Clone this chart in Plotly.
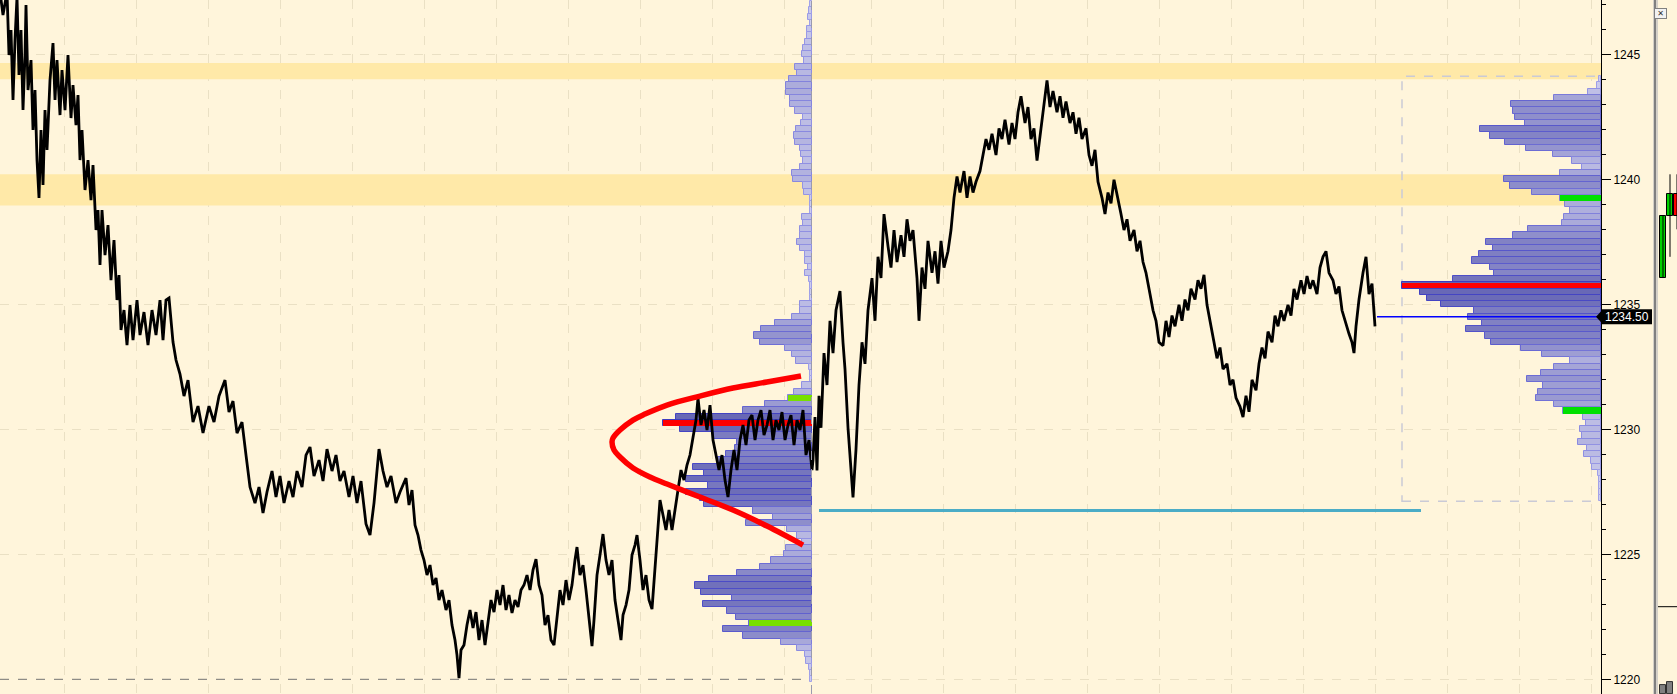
import plotly.graph_objects as go

# ---------------- data ----------------
Y_MIN, Y_MAX = 1219.412, 1247.172
X_MAX = 1601            # time-axis extent (one unit = one bar slot)
SESSION_BREAK = 812     # time index where session 2 begins

TICK = 0.25

LEFT_T = [0,3,7,9,11,13,15,17,19,21,23,25,26,28,31,33,35,37,39,41,43,45,47,50,53,55,57,60,62,65,68,71,73,76,78,80,82,85,88,91,93,96,98,100,102,105,108,111,114,117,119,121,124,127,130,133,137,140,144,148,152,156,160,163,166,169,173,176,180,184,188,193,198,203,209,214,219,225,229,233,237,242,246,250,255,259,263,267,272,276,280,284,289,293,297,302,306,310,314,319,323,327,332,336,340,344,349,353,357,361,366,370,374,379,383,387,391,396,400,
          403,406,409,412,415,418,421,424,427,430,433,436,439,442,446,449,452,455,457,459,461,464,467,470,473,476,479,482,485,488,491,494,497,500,503,506,509,512,515,518,521,524,527,530,533,536,539,542,545,548,551,554,557,560,563,566,569,572,575,577,580,583,586,589,592,594,597,600,603,606,609,612,615,618,621,623,626,629,632,635,637,640,643,646,649,652,655,657,660,663,666,669,672,675,678,681,684,687,690,693,696,698,701,704,707,710,713,716,719,722,725,728,731,734,737,740,743,746,749,752,755,758,761,764,767,770,773,776,779,782,785,788,791,794,797,800,803,806,809,812]
LEFT_P = [1247.5,1246.57,1247.5,1244.97,1245.97,1243.17,1245.57,1247.3,1244.17,1245.97,1242.77,1244.97,1246.97,1243.57,1244.77,1241.97,1243.57,1240.77,1239.25,1241.97,1239.77,1242.77,1241.17,1243.97,1245.45,1243.17,1244.77,1242.57,1244.37,1242.77,1244.97,1242.45,1243.77,1242.17,1243.37,1240.77,1241.97,1239.57,1240.77,1239.17,1240.57,1237.97,1238.77,1236.57,1238.77,1236.97,1238.17,1235.97,1237.57,1235.17,1236.17,1233.97,1234.77,1233.37,1234.97,1233.57,1235.17,1233.77,1234.69,1233.37,1234.77,1233.77,1235.17,1233.57,1235.17,1235.25,1233.49,1232.77,1232.21,1231.33,1231.97,1230.29,1230.93,1229.85,1230.93,1230.29,1231.33,1231.97,1230.69,1231.13,1229.85,1230.29,1228.97,1227.69,1227.05,1227.69,1226.65,1227.49,1228.33,1227.29,1228.13,1227.05,1227.93,1227.29,1228.33,1227.69,1228.97,1229.29,1228.13,1228.77,1227.93,1229.21,1228.33,1228.97,1227.93,1228.33,1227.29,1228.13,1227.05,1227.93,1226.21,1225.77,1227.05,1229.21,1228.33,1227.69,1228.13,1227.05,1227.49,
          1227.77,1228.05,1226.97,1227.57,1226.17,1225.77,1225.17,1224.77,1224.17,1224.57,1223.77,1224.05,1223.17,1223.57,1222.77,1223.17,1222.17,1221.57,1220.97,1220.05,1221.17,1221.37,1222.17,1222.77,1222.05,1222.69,1221.57,1222.37,1221.37,1222.17,1223.17,1222.69,1223.57,1222.97,1223.77,1222.77,1223.37,1222.65,1223.17,1222.89,1223.57,1223.77,1224.17,1223.57,1224.37,1224.81,1223.77,1223.37,1222.17,1222.57,1221.57,1221.37,1222.37,1223.57,1222.97,1223.97,1223.17,1223.77,1224.77,1225.29,1224.17,1224.57,1223.57,1222.57,1221.33,1222.37,1224.17,1224.97,1225.81,1224.77,1224.17,1224.77,1223.17,1222.37,1221.57,1222.57,1222.97,1223.57,1224.97,1225.37,1225.77,1224.77,1223.57,1224.17,1223.17,1222.81,1224.57,1225.77,1227.17,1226.57,1225.97,1226.77,1225.97,1226.77,1227.57,1228.37,1227.97,1228.57,1228.97,1229.77,1230.37,1231.25,1230.17,1230.77,1229.97,1230.97,1229.57,1228.97,1228.37,1228.97,1227.97,1227.29,1228.37,1229.17,1228.37,1229.57,1230.17,1229.37,1230.37,1230.57,1229.57,1230.37,1230.77,1229.77,1230.17,1230.77,1229.57,1230.37,1229.97,1230.69,1229.57,1230.17,1230.57,1229.37,1230.37,1229.97,1230.77,1228.97,1229.57,1228.37]

RIGHT_T = [813,815,817,819,821,824,827,830,833,836,840,843,845,848,851,853,856,859,862,865,868,872,875,878,881,884,888,891,894,897,901,904,907,910,913,917,919,922,925,928,932,935,938,941,944,948,951,954,957,960,964,967,970,973,976,980,983,986,989,992,996,999,1002,1005,1009,1012,1015,1018,1021,1025,1028,1031,1034,1037,1041,1044,1047,1050,1053,1057,1060,1063,1066,1070,1073,1076,1079,1082,1086,1089,1092,1095,1098,1102,1105,1108,1111,1114,1118,1121,1124,1127,1130,1134,1137,1140,1143,1146,1150,1153,1156,1159,1163,1166,1169,1172,1175,1179,1182,1185,1188,1191,1195,1198,1201,1204,1207,1211,1214,1217,1220,1223,1227,1230,1233,1236,1240,1243,1246,1249,1252,1256,1259,1262,1265,1268,1272,1275,1278,1281,1284,1288,1291,1294,1297,1301,1304,1307,1310,1313,1317,1320,1323,1326,1329,1333,1336,1339,1342,1345,1349,1352,1354,1356,1359,1363,1366,1369,1372,1375]
RIGHT_P = [1228.77,1230.49,1228.35,1231.34,1230.06,1233.05,1231.77,1234.34,1233.05,1234.76,1235.53,1233.48,1232.41,1230.06,1228.35,1227.28,1229.20,1231.77,1233.48,1232.62,1234.76,1236.05,1234.34,1236.90,1236.05,1238.61,1237.33,1236.47,1237.97,1236.69,1237.76,1236.90,1238.40,1237.54,1237.97,1236.05,1234.34,1236.47,1235.62,1237.54,1236.26,1237.12,1235.83,1237.54,1236.47,1237.12,1237.97,1239.26,1240.11,1239.47,1240.33,1239.26,1240.11,1239.47,1239.90,1240.33,1240.97,1241.61,1241.18,1241.82,1240.97,1242.04,1241.61,1242.38,1241.39,1242.25,1241.61,1242.68,1243.32,1242.25,1242.89,1241.61,1242.04,1240.75,1242.04,1243.11,1243.96,1242.89,1243.53,1242.68,1243.32,1242.46,1243.11,1242.25,1242.68,1241.82,1242.46,1241.61,1242.04,1240.97,1240.54,1241.18,1239.90,1239.26,1238.61,1239.47,1239.04,1239.98,1239.26,1238.61,1237.97,1238.40,1237.54,1237.97,1237.12,1237.54,1236.69,1236.26,1235.41,1234.76,1234.34,1233.48,1233.35,1234.34,1233.69,1234.55,1234.12,1234.98,1234.34,1235.19,1234.76,1235.62,1235.19,1235.96,1235.62,1236.18,1234.98,1234.12,1233.48,1232.84,1233.27,1232.41,1232.62,1231.77,1231.98,1231.26,1230.91,1230.49,1231.34,1230.70,1231.98,1231.56,1232.62,1233.27,1232.84,1233.91,1233.48,1234.55,1234.12,1234.76,1234.34,1234.98,1234.55,1235.62,1235.19,1235.96,1235.41,1236.13,1235.62,1235.96,1235.41,1236.47,1236.90,1237.12,1236.26,1235.96,1235.41,1235.71,1234.76,1234.34,1233.82,1233.48,1233.05,1234.12,1235.19,1236.26,1236.90,1235.41,1235.83,1234.12]

# volume profile, session 1 (rows from the top price, one tick apart)
LEFT_PROFILE_TOP = 1247.0
LEFT_VOL = [1.7,3.3,4.3,2.3,5.3,5.3,7.3,9.3,10.3,8.3,
            17.3,15.3,23.3,26.3,26.3,22.3,22.3,17.3,9.3,11.3,
            16.3,18.3,17.3,12.3,11.3,9.3,12.3,20.3,19.3,9.3,
            8.3,2.3,2.3,1.7,10.3,9.3,12.3,12.3,15.3,12.3,
            7.3,7.3,4.3,7.3,3.3,2.3,2.3,1.7,12.3,12.3,
            20.3,37.3,51.3,58.3,52.3,27.3,
            20,16.3,3,2.3,2,10.3,18.3,24,
            47.3,69.3,136.3,149.3,132.3,97.7,75,77.3,86.3,94.3,
            119.3,108.3,125.7,104.3,125.7,112.3,108.3,59.3,39.3,66.3,
            25,15.3,10,26,28.3,41.3,52.3,75.3,103.3,117.3,
            111.3,80.3,109.3,85.3,76.3,63,
            89.3,69.3,31.3,15.3,7.3,6.3,3.3,2.3,1.7]
LEFT_POC = 1230.25
LEFT_VA = [1231.25, 1222.25]
SESSION1_LOW = 1220.0

# volume profile, session 2
RIGHT_PROFILE_TOP = 1244.0
RIGHT_VOL = [2,4,13,47,90,88,86,76,121,111,
             96,75,48,29,19,41,97,91,69,41,
             36,31,37,39,73,88,115,108,122,129,
             111,107,148,199,181,174,160,127,133,119,
             135,116,110,80,59,31,47,60,74,58,
             63,65,47,38,18,15,21,19,23,14,
             17,10,9,3,2,1.7,1.7,1.7]
RIGHT_POC = 1235.75
RIGHT_VA = [1239.25, 1230.75]

LAST_PRICE = 1234.50
LAST_PRICE_FROM = 1377
SUPPORT_LEVEL = 1226.75
SUPPORT_T = [819, 1421]

BANDS = [(1244.0, 1244.65), (1238.95, 1240.2)]

# hand-drawn red curve (time, price)
CURVE_T = [801, 767, 733, 700, 667, 645, 633, 620, 613, 612, 614, 620, 633, 650, 667, 700, 733, 767, 803]
CURVE_P = [1232.13, 1231.89, 1231.65, 1231.33, 1230.97, 1230.61, 1230.37, 1229.97, 1229.65, 1229.49,
           1229.17, 1228.89, 1228.45, 1228.09, 1227.81, 1227.29, 1226.77, 1226.13, 1225.37]

GRID_T = [64, 136, 208, 280, 352, 424, 496, 568, 640, 712, 784,
          871, 943, 1015, 1087, 1159, 1231, 1303, 1375, 1447, 1519, 1591]
Y_TICKS = [1220, 1225, 1230, 1235, 1240, 1245]

# mini chart on the far right
MINI_X = [0, 1, 2]
MINI_OPEN = [1236.05, 1238.55, 1239.4]
MINI_CLOSE = [1238.55, 1239.4, 1238.55]
MINI_HIGH = [1238.55, 1240.2, 1240.2]
MINI_LOW = [1236.05, 1236.9, 1238.0]
MINI_VOL = [10, 14]

# ---------------- styling helpers ----------------
BG = '#FFF5DB'
BAND = '#FFE9A8'
W, H = 1677, 694
MAIN_RIGHT_PX = 1601
MINI_LEFT_PX = 1658
VOL_TOP_PX = 606.7


def lerp(a, b, t):
    return tuple(int(round(a[i] + (b[i] - a[i]) * t)) for i in range(3))


def shade(w, wmax):
    t = (w / wmax) ** 0.6
    f = lerp((213, 213, 242), (98, 98, 178), t)
    l = lerp((168, 168, 236), (60, 60, 192), t)
    return 'rgb(%d,%d,%d)' % f, 'rgb(%d,%d,%d)' % l


def profile_traces(top, vols, base, poc, va, green):
    prices = [top - TICK * i for i in range(len(vols))]
    vmax = max(vols)
    fills, lines = zip(*[shade(v, vmax) for v in vols])
    traces = [go.Bar(orientation='h', y=prices, x=[-v for v in vols], base=base,
                     width=TICK, marker=dict(color=list(fills),
                                             line=dict(color=list(lines), width=1)),
                     hoverinfo='skip', showlegend=False)]
    lookup = dict(zip(prices, vols))
    traces.append(go.Bar(orientation='h', y=va, x=[-lookup[p] for p in va], base=base,
                         width=TICK, marker=dict(color=green, line=dict(color=green, width=0)),
                         hoverinfo='skip', showlegend=False))
    traces.append(go.Bar(orientation='h', y=[poc], x=[-lookup[poc]], base=base,
                         width=TICK * 0.9, marker=dict(color='#FF0000', line=dict(color='#FF0000', width=0)),
                         hoverinfo='skip', showlegend=False))
    return traces, prices


fig = go.Figure()

lt, lprices = profile_traces(LEFT_PROFILE_TOP, LEFT_VOL, SESSION_BREAK, LEFT_POC, LEFT_VA, '#78E000')
rt, rprices = profile_traces(RIGHT_PROFILE_TOP, RIGHT_VOL, X_MAX, RIGHT_POC, RIGHT_VA, '#00E000')
for t in lt + rt:
    fig.add_trace(t)

# session-1 low (dashed)
fig.add_trace(go.Scatter(x=[0, SESSION_BREAK - 2], y=[SESSION1_LOW, SESSION1_LOW], mode='lines',
                         line=dict(color='#777777', width=1, dash='dash'), hoverinfo='skip', showlegend=False))
# support line
fig.add_trace(go.Scatter(x=SUPPORT_T, y=[SUPPORT_LEVEL, SUPPORT_LEVEL], mode='lines',
                         line=dict(color='#4BACC6', width=3), hoverinfo='skip', showlegend=False))
# last price line
fig.add_trace(go.Scatter(x=[LAST_PRICE_FROM, X_MAX], y=[LAST_PRICE, LAST_PRICE], mode='lines',
                         line=dict(color='#0000FF', width=1.5), hoverinfo='skip', showlegend=False))
# price
fig.add_trace(go.Scatter(x=LEFT_T + RIGHT_T, y=LEFT_P + RIGHT_P, mode='lines',
                         line=dict(color='#000000', width=2.8), hoverinfo='skip', showlegend=False))
# red curve
fig.add_trace(go.Scatter(x=CURVE_T, y=CURVE_P, mode='lines',
                         line=dict(color='#FF0000', width=5.5, shape='spline', smoothing=1.0),
                         hoverinfo='skip', showlegend=False))

# mini chart: wicks, bodies, volume
wx, wy = [], []
for x, lo, hi in zip(MINI_X, MINI_LOW, MINI_HIGH):
    wx += [x, x, None]
    wy += [lo, hi, None]
fig.add_trace(go.Scatter(x=wx, y=wy, xaxis='x2', yaxis='y2', mode='lines',
                         line=dict(color='black', width=1), hoverinfo='skip', showlegend=False))
body_colors = ['#00D000' if c >= o else '#FF0000' for o, c in zip(MINI_OPEN, MINI_CLOSE)]
fig.add_trace(go.Bar(x=MINI_X, y=[c - o for o, c in zip(MINI_OPEN, MINI_CLOSE)], base=MINI_OPEN,
                     xaxis='x2', yaxis='y2', width=0.78,
                     marker=dict(color=body_colors, line=dict(color='black', width=1)),
                     hoverinfo='skip', showlegend=False))
fig.add_trace(go.Bar(x=MINI_X[:len(MINI_VOL)], y=MINI_VOL, xaxis='x2', yaxis='y3', width=0.75,
                     marker=dict(color='#808080', line=dict(color='#303030', width=1)),
                     hoverinfo='skip', showlegend=False))

# shapes
shapes = []
for lo, hi in BANDS:
    shapes.append(dict(type='rect', xref='x', yref='y', x0=0, x1=X_MAX, y0=lo, y1=hi,
                       fillcolor=BAND, line=dict(width=0), layer='between'))
shapes.append(dict(type='rect', xref='x', yref='y',
                   x0=X_MAX - max(RIGHT_VOL), x1=X_MAX,
                   y0=rprices[-1] - TICK / 2, y1=RIGHT_PROFILE_TOP + TICK / 2,
                   line=dict(color='#CACAD6', width=1.5, dash='dash'), layer='between'))
shapes.append(dict(type='line', xref='x', yref='paper', x0=SESSION_BREAK - 0.5, x1=SESSION_BREAK - 0.5,
                   y0=0, y1=1, line=dict(color='#9A9AB0', width=1, dash='dash'), layer='above'))
# separator between main chart and mini panel
shapes.append(dict(type='rect', xref='paper', yref='paper', x0=1653 / W, x1=MINI_LEFT_PX / W, y0=0, y1=1,
                   fillcolor='#D4D0C8', line=dict(width=0)))
shapes.append(dict(type='line', xref='paper', yref='paper', x0=1655 / W, x1=1655 / W, y0=0, y1=1,
                   line=dict(color='#808080', width=2)))
shapes.append(dict(type='line', xref='paper', yref='paper', x0=MINI_LEFT_PX / W, x1=1,
                   y0=(H - VOL_TOP_PX) / H, y1=(H - VOL_TOP_PX) / H,
                   line=dict(color='black', width=1)))
# last-price tag
shapes.append(dict(type='rect', xref='paper', yref='y', x0=MAIN_RIGHT_PX / W, x1=1652 / W,
                   y0=LAST_PRICE - 0.3, y1=LAST_PRICE + 0.3, fillcolor='black', line=dict(width=0)))
shapes.append(dict(type='path', xref='paper', yref='y',
                   path='M %f,%f L %f,%f L %f,%f Z' % (1596 / W, LAST_PRICE, 1602 / W, LAST_PRICE + 0.26,
                                                     1602 / W, LAST_PRICE - 0.26),
                   fillcolor='black', line=dict(width=0)))

annotations = [
    dict(xref='paper', yref='y', x=1626.5 / W, y=LAST_PRICE, text='1234.50', showarrow=False,
         font=dict(family='Liberation Sans, Arial', size=12, color='white'), xanchor='center', yanchor='middle'),
    dict(xref='paper', yref='paper', x=1667 / W, y=1 - 7.5 / H, text='✕', showarrow=False,
         font=dict(family='DejaVu Sans', size=8, color='#303030'), bgcolor='#F2F2F2',
         bordercolor='#808080', borderwidth=1, width=11, height=9, borderpad=0),
]

fig.update_layout(
    template='none',
    width=W, height=H,
    margin=dict(l=0, r=0, t=0, b=0, pad=0, autoexpand=False),
    paper_bgcolor=BG, plot_bgcolor=BG,
    barmode='overlay', bargap=0,
    showlegend=False,
    shapes=shapes, annotations=annotations,
    xaxis=dict(domain=[0, MAIN_RIGHT_PX / W], range=[0, X_MAX], tickvals=GRID_T, showticklabels=False,
               ticks='', showgrid=True, gridcolor='#EAE0C4', griddash='dash', gridwidth=1,
               zeroline=False, showline=False, fixedrange=True, automargin=False),
    yaxis=dict(domain=[0, 1], range=[Y_MIN, Y_MAX], side='right', tickvals=Y_TICKS,
               ticks='outside', ticklen=9, tickcolor='black', tickwidth=1,
               minor=dict(dtick=1, ticklen=4, tickcolor='black', ticks='outside', showgrid=False),
               showgrid=True, gridcolor='#EAE0C4', griddash='dash', gridwidth=1,
               showline=True, linecolor='black', linewidth=1, zeroline=False, automargin=False,
               tickfont=dict(family='Liberation Sans, Arial', size=12, color='black')),
    xaxis2=dict(domain=[MINI_LEFT_PX / W, 1], range=[-0.714, 2.0], anchor='y2', visible=False,
                fixedrange=True, automargin=False),
    yaxis2=dict(domain=[(H - VOL_TOP_PX) / H, 1], range=[Y_MAX - VOL_TOP_PX / 25.0, Y_MAX], anchor='x2',
                visible=False, automargin=False),
    yaxis3=dict(domain=[0, (H - VOL_TOP_PX) / H - 0.002], range=[0, 100], anchor='x2', visible=False,
                automargin=False),
)

fig.write_html('out.html', config={'displayModeBar': False},
               post_script="document.body.style.margin='0px';document.body.style.overflow='hidden';")
